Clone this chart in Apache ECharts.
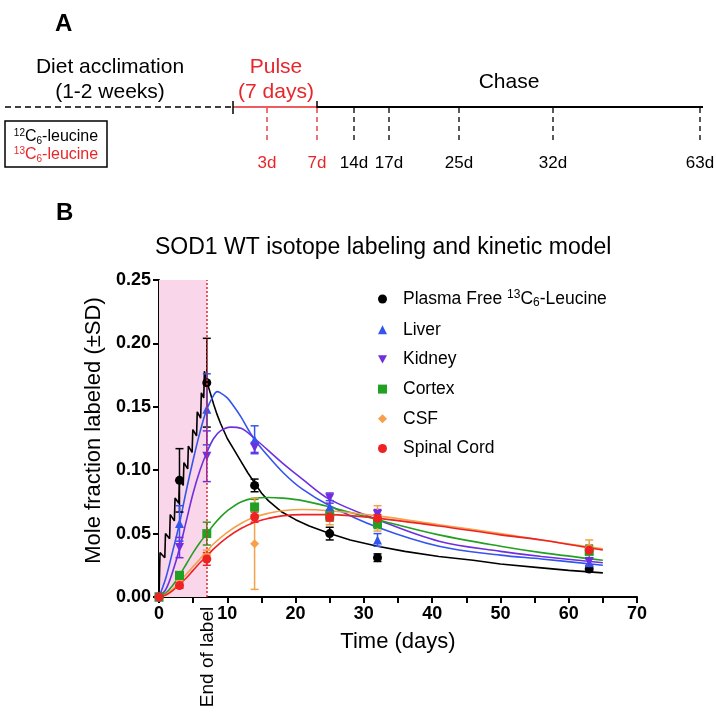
<!DOCTYPE html>
<html><head><meta charset="utf-8">
<script src="https://cdn.jsdelivr.net/npm/echarts@6/dist/echarts.min.js"></script>
<style>html,body{margin:0;padding:0;background:#fff}#c{width:716px;height:726px}</style>
</head><body><div id="c"></div>
<script>
// ---------- Panel A data ----------
const timelineLabels = ['3d','7d','14d','17d','25d','32d','63d'];
const timelineIsPulse = [true,true,false,false,false,false,false];

// ---------- Panel B data ----------
const seriesNames = ['Plasma Free 13C6-Leucine','Liver','Kidney','Cortex','CSF','Spinal Cord'];
const sampleDays = [0,3,7,14,25,32,63];
const plasmaMean = [0,0.092,0.169,0.088,0.050,0.031,0.022];
const plasmaSD   = [0,0.025,0.035,0.005,0.005,0.003,0.002];
const liverMean  = [0,0.058,0.148,0.124,0.071,0.045,0.027];
const liverSD    = [0,0.014,0.028,0.011,0.005,0.005,0.003];
const kidneyMean = [0,0.039,0.111,0.118,0.078,0.065,0.028];
const kidneySD   = [0,0.008,0.020,0.004,0.004,0.004,0.003];
const cortexMean = [0,0.017,0.050,0.071,0.064,0.058,0.036];
const cortexSD   = [0,0.003,0.009,0.006,0.004,0.004,0.005];
const csfMean    = [0,0.010,0.033,0.042,0.063,0.062,0.039];
const csfSD      = [0,0.003,0.004,0.036,0.006,0.010,0.006];
const spinalMean = [0,0.009,0.030,0.063,0.063,0.062,0.037];
const spinalSD   = [0,0.002,0.005,0.004,0.003,0.003,0.003];

// kinetic model curves [day, fraction]
const plasmaFit = [[0,0],[0.15,0.035],[0.85,0.031],[0.95,0.050],[1.55,0.046],[1.65,0.065],[2.25,0.060],[2.35,0.078],[2.9,0.074],[3.0,0.093],[3.55,0.088],[3.65,0.106],[4.2,0.101],[4.3,0.119],[4.85,0.114],[4.95,0.132],[5.5,0.127],[5.6,0.146],[6.1,0.141],[6.2,0.161],[6.55,0.157],[6.65,0.178],[7.0,0.170],[7.5,0.161],[8,0.152],[8.5,0.144],[9,0.137],[10,0.125],[11,0.116],[12,0.107],[13,0.098],[14,0.090],[15,0.082],[16,0.076],[18,0.067],[20,0.061],[22,0.056],[25,0.050],[28,0.045],[32,0.040],[36,0.036],[41,0.032],[46,0.029],[50,0.026],[56,0.023],[60,0.021],[65,0.019]];
const liverFit  = [[0,0],[1,0.015],[2,0.036],[3,0.058],[4,0.084],[5,0.108],[6,0.130],[7,0.148],[8,0.159],[8.5,0.162],[9,0.161],[10,0.157],[11,0.150],[12,0.142],[13.3,0.130],[14,0.124],[15.2,0.116],[18.2,0.098],[21,0.085],[25,0.072],[32,0.055],[41,0.040],[50,0.033],[56,0.030],[65,0.025]];
const kidneyFit = [[0,0],[1,0.006],[2,0.020],[3,0.038],[4,0.060],[5,0.082],[6,0.100],[7,0.114],[8,0.125],[9,0.131],[10.5,0.134],[12,0.133],[14,0.125],[18,0.106],[21,0.093],[25,0.077],[32,0.061],[41,0.044],[50,0.036],[56,0.032],[65,0.027]];
const cortexFit = [[0,0],[1,0.003],[2,0.009],[3,0.017],[4,0.026],[5,0.035],[6,0.043],[7,0.050],[8,0.057],[9,0.063],[10,0.068],[12,0.075],[14,0.078],[16,0.0785],[18,0.078],[21,0.076],[25,0.071],[32,0.061],[41,0.049],[50,0.040],[56,0.035],[65,0.029]];
const csfFit    = [[0,0],[1,0.002],[2,0.006],[3,0.012],[4,0.018],[5,0.024],[6,0.030],[7,0.036],[8,0.042],[10,0.051],[12,0.058],[14,0.063],[16,0.066],[18,0.068],[21,0.069],[25,0.068],[32,0.064],[41,0.057],[50,0.050],[56,0.045],[65,0.038]];
const spinalFit = [[0,0],[1,0.0015],[2,0.005],[3,0.010],[4,0.015],[5,0.021],[6,0.027],[7,0.032],[8,0.038],[10,0.047],[12,0.054],[14,0.059],[16,0.062],[18,0.064],[21,0.065],[25,0.065],[32,0.062],[41,0.056],[50,0.049],[56,0.045],[65,0.037]];

const pulseWindow = [0, 7];
const yTicksMax = 0.25;

// ---------- styling ----------
const FONT = '"Liberation Sans", Arial, Helvetica, sans-serif';
const RED = '#e8262a';
const colors = ['#000000','#3355ee','#6f2fe0','#22a022','#f5a04a','#ee2222'];
const symbols = ['circle','triangle','path://M0,0L10,0L5,9Z','rect','diamond','circle'];
const means = [plasmaMean,liverMean,kidneyMean,cortexMean,csfMean,spinalMean];
const sds = [plasmaSD,liverSD,kidneySD,cortexSD,csfSD,spinalSD];
const fits = [plasmaFit,liverFit,kidneyFit,cortexFit,csfFit,spinalFit];

function errRender(params, api){
  const x = api.value(0), m = api.value(1), sd = api.value(2);
  if (!sd) return null;
  const top = api.coord([x, m+sd]), bot = api.coord([x, m-sd]);
  const c = api.visual('color'), hw = 4;
  const st = {stroke:c, lineWidth:1.5};
  return {type:'group', children:[
    {type:'line', shape:{x1:top[0],y1:top[1],x2:bot[0],y2:bot[1]}, style:st},
    {type:'line', shape:{x1:top[0]-hw,y1:top[1],x2:top[0]+hw,y2:top[1]}, style:st},
    {type:'line', shape:{x1:bot[0]-hw,y1:bot[1],x2:bot[0]+hw,y2:bot[1]}, style:st}
  ]};
}

const series = [];
series.push({
  type:'line', name:'pulse', data:[[0,0]], symbol:'none', z:1, silent:true,
  lineStyle:{opacity:0},
  markArea:{silent:true, itemStyle:{color:'#f9d6e9'}, data:[[{xAxis:pulseWindow[0], yAxis:0},{xAxis:pulseWindow[1], yAxis:yTicksMax}]]},
  markLine:{silent:true, symbol:'none', label:{show:false}, lineStyle:{color:RED, type:[2,2], width:1.5}, data:[{xAxis:pulseWindow[1]}]}
});
fits.forEach((f,i)=>{
  series.push({type:'line', name:'fit'+i, data:f, symbol:'none', z:2+i*0.01,
    smooth: i===0 ? false : 0.35, lineStyle:{color:colors[i], width:1.6}, itemStyle:{color:colors[i]}});
});
means.forEach((m,i)=>{
  series.push({type:'custom', name:'sd'+i, renderItem:errRender, z:3,
    itemStyle:{color:colors[i]}, encode:{x:0,y:1},
    data: sampleDays.map((d,k)=>[d, m[k], sds[i][k]])});
});
means.forEach((m,i)=>{
  series.push({type:'scatter', name:seriesNames[i], symbol:symbols[i],
    symbolSize: 9, z:4,
    itemStyle:{color:colors[i], opacity:1},
    data: sampleDays.map((d,k)=>[d, m[k]])});
});

// Panel A graphics
const tickX = [267,317,354,389,459,553,700];
const g = [];
g.push({type:'text', left:55, top:12, style:{text:'A', font:'bold 24px '+FONT, fill:'#000'}});
g.push({type:'text', left:56, top:201, style:{text:'B', font:'bold 24px '+FONT, fill:'#000'}});
g.push({type:'text', x:110, y:67, style:{text:'Diet acclimation', font:'21px '+FONT, fill:'#000', align:'center', verticalAlign:'middle'}});
g.push({type:'text', x:110, y:92, style:{text:'(1-2 weeks)', font:'21px '+FONT, fill:'#000', align:'center', verticalAlign:'middle'}});
g.push({type:'text', x:276, y:67, style:{text:'Pulse', font:'21px '+FONT, fill:RED, align:'center', verticalAlign:'middle'}});
g.push({type:'text', x:276, y:92, style:{text:'(7 days)', font:'21px '+FONT, fill:RED, align:'center', verticalAlign:'middle'}});
g.push({type:'text', x:509, y:82, style:{text:'Chase', font:'21px '+FONT, fill:'#000', align:'center', verticalAlign:'middle'}});
g.push({type:'line', shape:{x1:5,y1:107,x2:233,y2:107}, style:{stroke:'#000', lineWidth:1.5, lineDash:[6,4]}});
g.push({type:'line', shape:{x1:233,y1:107,x2:317,y2:107}, style:{stroke:RED, lineWidth:1.5}});
g.push({type:'line', shape:{x1:317,y1:107,x2:703,y2:107}, style:{stroke:'#000', lineWidth:2}});
g.push({type:'line', shape:{x1:233,y1:101,x2:233,y2:114}, style:{stroke:'#000', lineWidth:1.5}});
g.push({type:'line', shape:{x1:317,y1:101,x2:317,y2:108}, style:{stroke:'#000', lineWidth:1.5}});
timelineLabels.forEach((lab,i)=>{
  const c = timelineIsPulse[i] ? RED : '#000';
  g.push({type:'line', shape:{x1:tickX[i],y1:108,x2:tickX[i],y2:141}, style:{stroke:c, lineWidth:1.3, lineDash:[5,4]}});
  g.push({type:'text', x:tickX[i], y:163, style:{text:lab, font:'17px '+FONT, fill:c, align:'center', verticalAlign:'middle'}});
});
g.push({type:'rect', shape:{x:5,y:121,width:102,height:46}, style:{fill:'none', stroke:'#000', lineWidth:1.5}});
const richSmall = {
  n:{fontSize:16, fontFamily:FONT, lineHeight:18},
  sup:{fontSize:10, fontFamily:FONT, verticalAlign:'top', lineHeight:10},
  sub:{fontSize:10, fontFamily:FONT, verticalAlign:'bottom', lineHeight:10}
};
g.push({type:'text', x:56, y:137, style:{text:'{sup|12}{n|C}{sub|6}{n|-leucine}', rich:richSmall, fill:'#000', align:'center', verticalAlign:'middle'}});
g.push({type:'text', x:56, y:155, style:{text:'{sup|13}{n|C}{sub|6}{n|-leucine}', rich:richSmall, fill:RED, align:'center', verticalAlign:'middle'}});

const chart = echarts.init(document.getElementById('c'), null, {renderer:'canvas'});
const option = {
  animation:false,
  backgroundColor:'#fff',
  textStyle:{fontFamily:FONT},
  title:{text:'SOD1 WT isotope labeling and kinetic model', left:150, top:231,
    textStyle:{fontSize:23, fontWeight:'normal', color:'#000', fontFamily:FONT}},
  grid:{left:159, right:79, top:280, bottom:129},
  legend:{
    orient:'vertical', left:373, top:284, itemWidth:9, itemHeight:9, itemGap:11.7,
    data: seriesNames,
    formatter: function(n){ return n===seriesNames[0] ? '{a|Plasma Free }{sup|13}{a|C}{sub|6}{a|-Leucine}' : '{a|'+n+'}'; },
    textStyle:{color:'#000', fontSize:17.5, fontFamily:FONT, padding:[0,0,0,11],
      rich:{
        a:{fontSize:17.5, fontFamily:FONT, lineHeight:20, color:'#000'},
        sup:{fontSize:12, fontFamily:FONT, verticalAlign:'top', lineHeight:12, color:'#000'},
        sub:{fontSize:12, fontFamily:FONT, verticalAlign:'bottom', lineHeight:12, color:'#000'}
      }}
  },
  xAxis:{type:'value', min:0, max:70, interval:5,
    name:'Time (days)', nameLocation:'middle', nameGap:34,
    nameTextStyle:{fontSize:22, color:'#000', fontFamily:FONT},
    axisLine:{lineStyle:{color:'#000', width:2}},
    axisTick:{length:6, lineStyle:{width:2, color:'#000'}},
    axisLabel:{fontSize:18, fontWeight:'bold', color:'#000', margin:8, fontFamily:FONT,
      formatter:v=> v%10===0 ? String(v) : ''},
    splitLine:{show:false}},
  yAxis:{type:'value', min:0, max:yTicksMax, interval:0.05,
    name:'Mole fraction labeled (±SD)', nameLocation:'middle', nameGap:51,
    nameTextStyle:{fontSize:22, color:'#000', fontFamily:FONT, padding:[0,0,0,16]},
    axisLine:{show:true, lineStyle:{color:'#000', width:2}},
    axisTick:{show:true, length:6, lineStyle:{width:2, color:'#000'}},
    axisLabel:{fontSize:18, fontWeight:'bold', color:'#000', margin:8, fontFamily:FONT,
      formatter:v=>v.toFixed(2)},
    splitLine:{show:false}},
  series: series,
  graphic: g
};
chart.setOption(option);
const p = chart.convertToPixel({xAxisIndex:0, yAxisIndex:0}, [pulseWindow[1], 0]);
g.push({type:'text', x:p[0]+1, y:p[1]+60, rotation:Math.PI/2,
  style:{text:'End of label', font:'19px '+FONT, fill:'#000', align:'center', verticalAlign:'middle'}});
chart.setOption({graphic:g});
</script></body></html>
